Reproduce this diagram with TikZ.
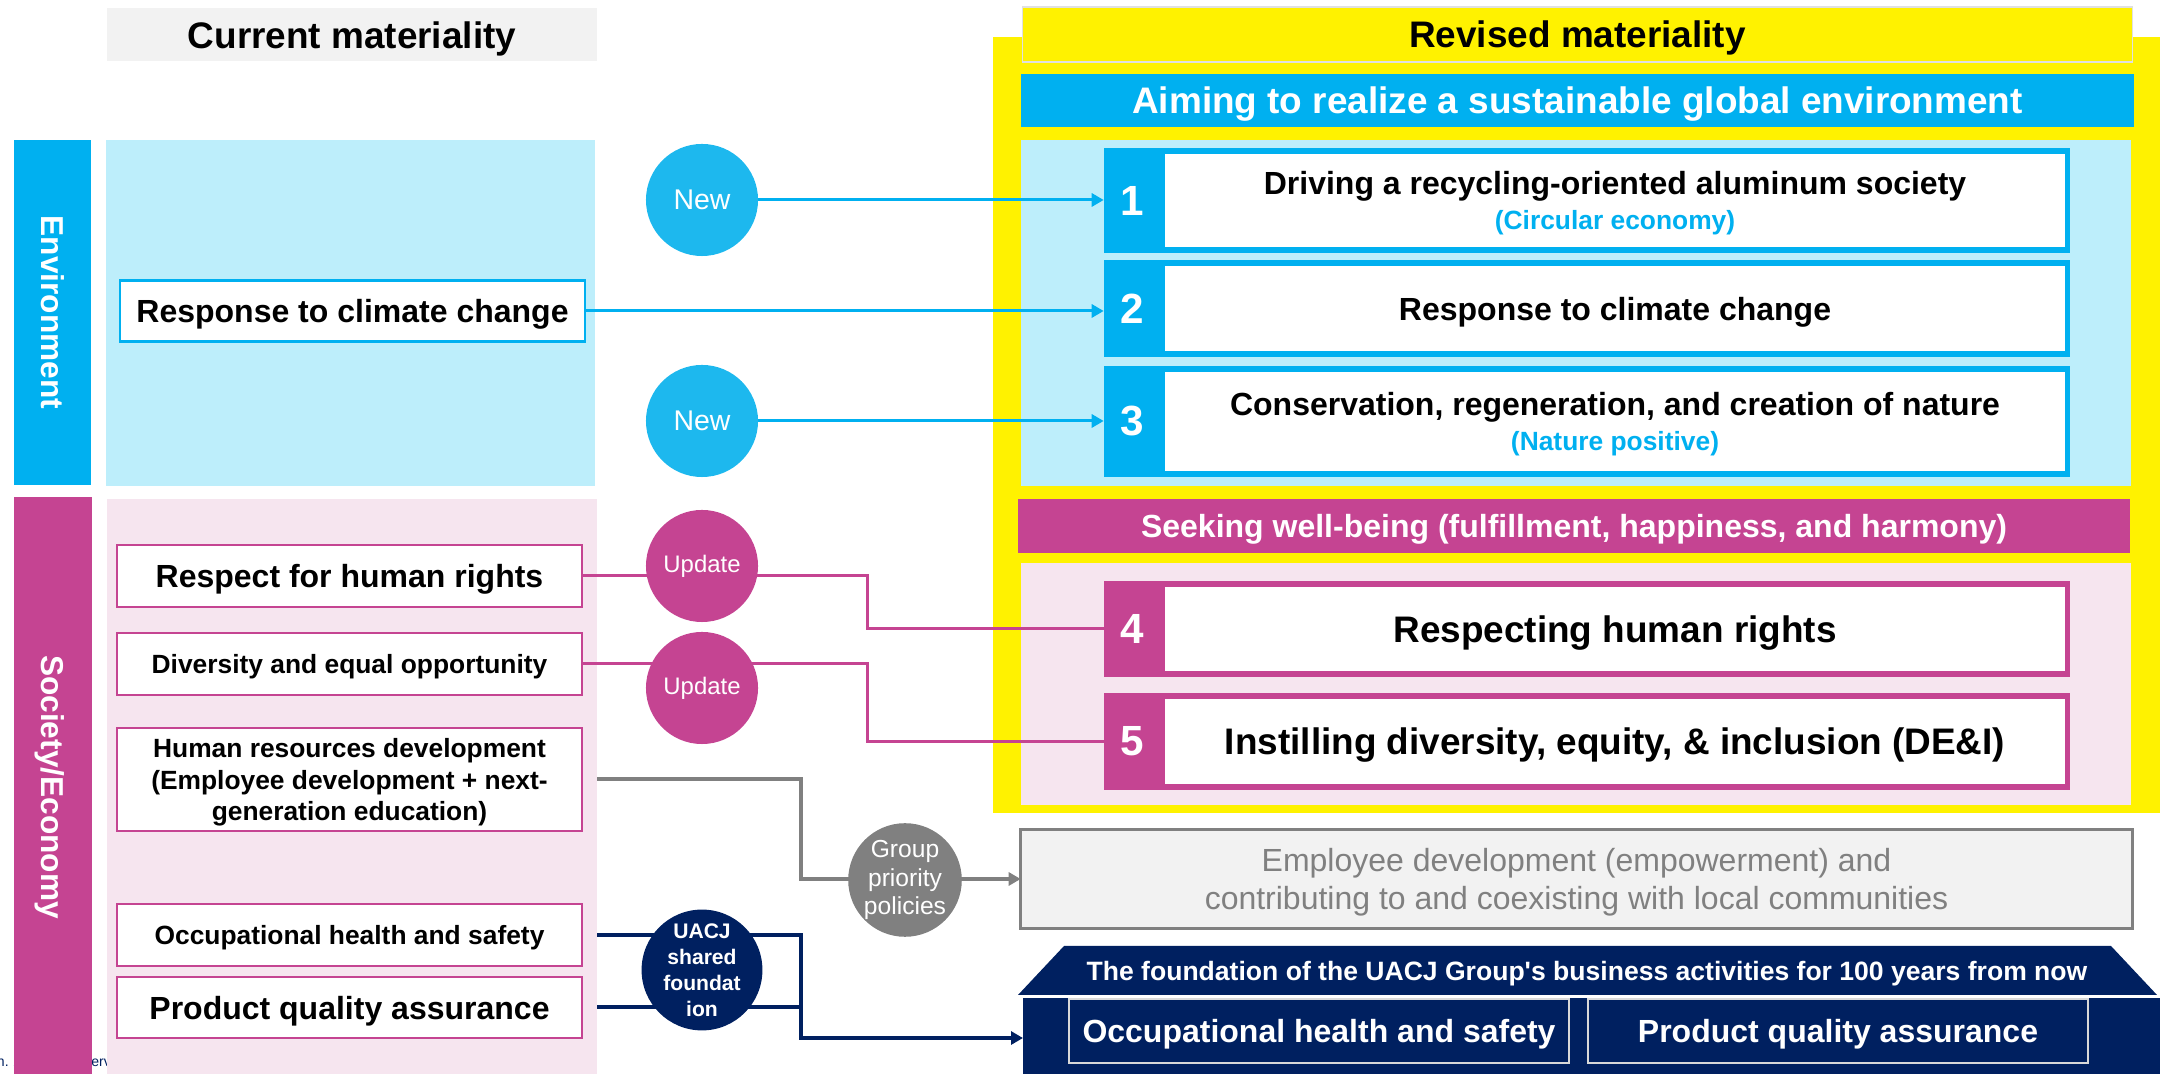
\documentclass[tikz,border=0pt]{standalone}
\usepackage{fontspec}
\setmainfont{Liberation Sans}
\usetikzlibrary{arrows.meta,positioning}

\definecolor{envblue}{HTML}{00B0F0}
\definecolor{newblue}{HTML}{1DB8EE}
\definecolor{paleblue}{HTML}{BDEEFB}
\definecolor{socmag}{HTML}{C54492}
\definecolor{palepink}{HTML}{F6E5EF}
\definecolor{navy}{HTML}{002060}
\definecolor{midgray}{HTML}{808080}
\definecolor{lightgray}{HTML}{F2F2F2}

\newcommand\fz[2]{\fontsize{#1}{#2}\selectfont}

\tikzset{
    box/.style={inner sep=0pt, outer sep=0pt, text depth=0pt},
    oldbox/.style={box, draw=socmag, line width=0.025cm, fill=white,
        minimum width=4.65cm, align=center, font=\bfseries},
    bubble/.style={circle, minimum size=1.12cm, inner sep=0pt, outer sep=0pt,
        text=white, align=center},
    link/.style={line width=0.03cm},
    tip/.style={-{Triangle[length=0.12cm,width=0.13cm]}},
}

\begin{document}
\begin{tikzpicture}[x=0.01cm, y=-0.01cm]
        \useasboundingbox (0,0) rectangle (2160,1074);

        % note under the left bars
        \node[box, anchor=base west, text=navy, font=\fz{4}{5}] (note) at (-3,1067)
            {n. All rights reserved.};

        % headers
        \node[box, fill=lightgray, minimum width=4.89cm, minimum height=0.53cm,
            font=\bfseries\fz{10.5}{12}] (curhead) at (352,35) {Current materiality};
        \fill[yellow] (993,37) rectangle (2170,813);
        \node[box, fill=yellow, draw=black!12, minimum width=11.09cm, minimum height=0.55cm,
            font=\bfseries\fz{10.5}{12}] (revhead) at (1577.5,34.5) {Revised materiality};
        \node[box, fill=envblue, text=white, minimum width=11.13cm, minimum height=0.53cm,
            font=\bfseries\fz{10.5}{12}] (envhead) at (1577.5,100.5)
            {Aiming to realize a sustainable global environment};
        \fill[paleblue] (1021,140) rectangle (2131,486);
        \node[box, fill=socmag, text=white, minimum width=11.12cm, minimum height=0.54cm,
            font=\bfseries\fz{9.1}{11}] (sochead) at (1574,526)
            {Seeking well-being (fulfillment, happiness, and harmony)};
        \fill[palepink] (1021,563) rectangle (2131,805);

        % revised items
        \foreach \n/\y/\h/\hin/\col/\txt in {
            1/200.5/1.05/0.93/envblue/{Driving a recycling-oriented aluminum society\\[-0.7pt]{\color{envblue}\fz{7.5}{9}(Circular economy)}},
            2/308.5/0.97/0.85/envblue/{Response to climate change},
            3/421.5/1.11/0.99/envblue/{Conservation, regeneration, and creation of nature\\[-0.4pt]{\color{envblue}\fz{7.5}{9}(Nature positive)}},
            4/629/0.96/0.84/socmag/{\fz{10.5}{12}Respecting human rights},
            5/741.5/0.97/0.85/socmag/{\fz{10.5}{12}Instilling diversity, equity, \& inclusion (DE\&I)}}{
            \node[box, fill=\col, minimum width=9.66cm, minimum height=\h cm] (item\n) at (1587,\y) {};
            \node[box, fill=white, minimum width=9.0cm, minimum height=\hin cm, anchor=east,
                align=center, font=\bfseries\fz{9.1}{10.5}] (itemtxt\n) at ([xshift=-0.05cm]item\n.east) {\txt};
            \node[text=white, font=\bfseries\fz{12}{14}] (num\n) at ([xshift=0.285cm]item\n.west) {\n};
        }

        % other revised boxes
        \node[box, draw=midgray, line width=0.03cm, fill=lightgray, minimum width=11.11cm,
            minimum height=0.98cm, text=midgray, align=center, font=\fz{9.1}{10.8}] (empbox) at (1576.5,879)
            {Employee development (empowerment) and\\contributing to and coexisting with local communities};
        \fill[navy] (1064,946) -- (2111,946) -- (2157,995) -- (1018,995) -- cycle;
        \node[box, text=white, font=\bfseries\fz{7.55}{9}] (roof) at (1587,971)
            {The foundation of the UACJ Group\textquotesingle s business activities for 100 years from now};
        \node[box, fill=navy, minimum width=11.47cm, minimum height=0.80cm, anchor=north west] (base) at (1023,998) {};
        \node[box, draw=black!15, line width=0.02cm, fill=navy, text=white, minimum width=5.0cm,
            minimum height=0.64cm, font=\bfseries\fz{9.1}{11}] (basesafety) at (1319,1031) {Occupational health and safety};
        \node[box, draw=black!15, line width=0.02cm, fill=navy, text=white, minimum width=5.0cm,
            minimum height=0.64cm, font=\bfseries\fz{9.1}{11}] (basequality) at (1838,1031) {Product quality assurance};

        % current side
        \node[box, fill=envblue, rotate=-90, minimum width=3.45cm, minimum height=0.76cm, text=white,
            font=\bfseries\fz{9}{11}] (envbar) at (52.5,312.5) {Environment};
        \node[box, fill=paleblue, minimum width=4.89cm, minimum height=3.46cm] (envpanel) at (350.5,313) {};
        \node[oldbox, draw=envblue, minimum height=0.61cm, font=\bfseries\fz{9.1}{11}] (oldclimate)
            at (352.5,311) {Response to climate change};
        \node[box, fill=socmag, rotate=-90, minimum width=5.80cm, minimum height=0.77cm, text=white,
            font=\bfseries\fz{9}{11}] (socbar) at (53,787) {Society/Economy};
        \node[box, fill=palepink, minimum width=4.90cm, minimum height=5.80cm] (socpanel) at (352,789) {};

        \foreach \name/\y/\h/\sz/\txt in {
            oldrights/576/0.62/9.1/{Respect for human rights},
            olddiv/664/0.62/7.5/{Diversity and equal opportunity},
            oldhr/779.5/1.03/7.5/{Human resources development\\(Employee development + next-\\generation education)},
            oldsafety/935/0.62/7.5/{Occupational health and safety},
            oldquality/1007.5/0.61/9.1/{Product quality assurance}}{
            \node[oldbox, minimum height=\h cm, font=\bfseries\fz{\sz}{9}] (\name) at (349.5,\y) {\txt};
        }

        % connectors under the bubbles
        \coordinate (jog) at (867,0);
        \coordinate (elbow) at (801,0);
        \draw[link, envblue, tip] (oldclimate.east) -- (oldclimate.east -| item2.west);
        \draw[link, socmag] (oldrights.east) -| (jog |- item4.west) -- (item4.west);
        \draw[link, socmag] (olddiv.east) -| (jog |- item5.west) -- (item5.west);
        \draw[link, midgray, line width=0.04cm, tip] (oldhr.east -| socpanel.east) -| (elbow |- empbox.west) -- (empbox.west);
        \draw[link, navy, line width=0.04cm, tip] (oldsafety.east -| socpanel.east) -| (elbow |- base.west) -- (base.west);
        \draw[link, navy, line width=0.04cm] (oldquality.east -| socpanel.east) -- (elbow |- oldquality.east);

        % bubbles
        \node[bubble, fill=newblue, font=\fz{8.1}{10}] (new1) at (702,200) {New};
        \node[bubble, fill=newblue, font=\fz{8.1}{10}] (new2) at (702,421) {New};
        \node[bubble, fill=socmag, font=\fz{6.8}{8}] (upd1) at (702,566) {Update};
        \node[bubble, fill=socmag, font=\fz{6.8}{8}] (upd2) at (702,688) {Update};
        \node[bubble, fill=midgray, font=\fz{7}{8}] (grp) at (905,880) {Group\\priority\\policies};
        \node[bubble, fill=navy, font=\bfseries\fz{6}{7.4}] (uacj) at (702,970) {UACJ\\shared\\foundat\\ion};

        \draw[link, envblue, tip] (new1.east) -- (new1.east -| item1.west);
        \draw[link, envblue, tip] (new2.east) -- (new2.east -| item3.west);
    \end{tikzpicture}
\end{document}
